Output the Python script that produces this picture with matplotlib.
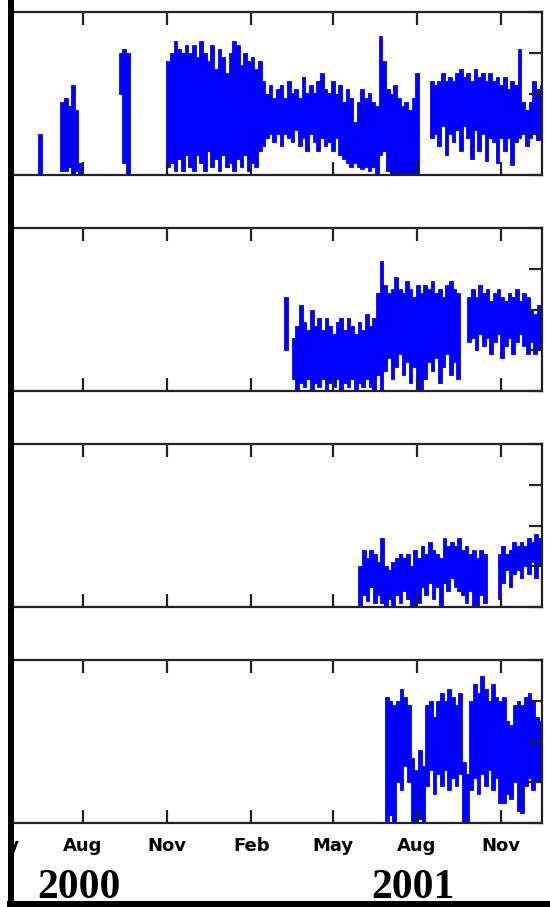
import numpy as np
import pandas as pd
import matplotlib
matplotlib.use("Agg")
import matplotlib.pyplot as plt
import matplotlib.dates as mdates
from matplotlib.patches import Rectangle

nan = np.nan
STEP = 4  # days per bin; each bin spans its low..high range

# panel 1
p1_start = "2000-06-13"
p1_hi = [1.0, nan, nan, nan, nan, nan, 1.8, 1.9, 1.7, 2.2, 1.6, 0.3,
         nan, nan, nan, nan, nan, nan, nan, nan, nan, nan, 3.0, 3.1, 3.0,
         nan, nan, nan, nan, nan, nan, nan, nan, nan, nan,
         2.8, 3.0, 3.3, 3.1, 3.0, 3.2, 3.0, 3.2, 2.9, 3.3, 3.0, 2.8, 3.2, 2.6,
         3.1, 2.9, 2.5, 3.0, 3.3, 3.2, 2.7, 3.0, 2.8, 2.9, 2.6, 2.8,
         2.3, 2.0, 2.2, 1.9, 2.1, 2.2, 1.9, 2.3, 2.0, 2.1, 1.9, 2.4, 2.0,
         2.2, 2.0, 2.3, 2.5, 2.1, 2.0, 2.3, 2.0, 2.2, 1.8, 2.1, 1.9, 1.3,
         1.8, 2.1, 1.9, 2.0, 1.8, 1.7, 3.4, 2.8, 2.1, 2.0, 2.2, 1.9, 1.7,
         1.8, 1.6, 1.9, 2.5, 0.0, 0.0, 0.0, 2.3, 2.2, 2.3, 2.5, 2.3, 2.4,
         2.3, 2.5, 2.6, 2.4, 2.5, 2.3, 2.6, 2.4, 2.5, 2.3, 2.5, 2.3, 2.4,
         2.2, 2.4, 2.1, 2.3, 2.2, 3.1, 1.8, 1.6, 1.8, 2.3, 2.1, 2.2]
p1_lo = [0.0, nan, nan, nan, nan, nan, 0.1, 0.1, 0.2, 0.0, 0.1, 0.0,
         nan, nan, nan, nan, nan, nan, nan, nan, nan, nan, 2.0, 0.3, 0.0,
         nan, nan, nan, nan, nan, nan, nan, nan, nan, nan,
         0.2, 0.3, 0.1, 0.4, 0.1, 0.5, 0.2, 0.1, 0.5, 0.3, 0.1, 0.6, 0.2, 0.4,
         0.1, 0.5, 0.2, 0.3, 0.1, 0.4, 0.2, 0.5, 0.1, 0.3, 0.2, 0.6,
         0.7, 0.9, 1.0, 0.8, 1.0, 0.7, 1.0, 0.9, 0.8, 1.1, 0.7, 0.9, 0.6,
         1.0, 0.8, 0.6, 0.9, 0.7, 0.8, 0.6, 0.9, 0.5, 0.4, 0.3, 0.2, 0.3,
         0.2, 0.15, 0.2, 0.1, 0.2, 0.0, 0.5, 0.6, 0.1, 0.0, 0.0, 0.0, 0.0,
         0.0, 0.0, 0.0, 0.0, 0.0, 0.0, 0.0, 0.9, 1.0, 0.7, 1.2, 0.5, 1.0,
         0.8, 1.1, 0.6, 1.2, 0.9, 0.4, 1.1, 0.6, 1.0, 0.35, 0.9, 0.8, 0.3,
         0.9, 0.6, 0.9, 0.25, 0.8, 0.9, 1.0, 0.7, 0.9, 1.0, 0.85, 0.9]

# panel 2
p2_start = "2001-03-09"
p2_hi = [2.3, nan, 1.3, 1.6, 2.1, 1.7, 1.5, 2.0, 1.6, 1.8, 1.5, 1.8,
         1.6, 1.4, 1.7, 1.8, 1.5, 1.8, 1.6, 1.4, 1.7, 1.5, 1.9, 1.6, 1.8,
         2.4, 3.2, 2.6, 2.4, 2.5, 2.8, 2.5, 2.4, 2.7, 2.5, 2.3, 2.6, 2.4,
         2.6, 2.5, 2.7, 2.4, 2.5, 2.3, 2.6, 2.7, 2.5, 2.4, nan, nan, 2.3,
         2.5, 2.3, 2.6, 2.4, 2.5, 2.2, 2.4, 2.5, 2.3, 2.2, 2.4, 2.3, 2.5,
         2.2, 2.4, 2.3, 2.0, 1.9, 2.1, 2.0]
p2_lo = [1.0, nan, 0.3, 0.0, 0.2, 0.1, 0.3, 0.0, 0.2, 0.1, 0.3, 0.0,
         0.2, 0.1, 0.3, 0.0, 0.2, 0.1, 0.3, 0.0, 0.2, 0.1, 0.3, 0.1, 0.0,
         0.4, 0.0, 0.5, 0.8, 0.3, 0.6, 0.9, 0.4, 0.7, 0.2, 0.6, 0.0, 0.0,
         0.3, 0.7, 0.5, 0.8, 0.2, 0.6, 0.9, 0.4, 0.7, 0.3, nan, nan, 1.2,
         1.3, 1.0, 1.4, 1.1, 1.3, 0.9, 1.2, 1.4, 0.8, 1.1, 1.3, 0.9, 1.2,
         1.4, 1.1, 0.9, 1.2, 0.9, 1.0, 1.1]

# panel 3
p3_start = "2001-05-29"
p3_hi = [1.0, 1.4, 1.2, 1.4, 1.3, 1.1, 1.7, 1.0, 0.9, 1.1, 1.2, 1.3,
         1.2, 1.3, 1.0, 1.4, 1.2, 1.5, 1.3, 1.6, 1.4, 1.3, 1.2, 1.7, 1.5,
         1.6, 1.5, 1.7, 1.4, 1.5, 1.3, 1.4, 1.2, 1.4, 1.3, 0.0, 0.0, 0.0,
         1.3, 1.5, 1.3, 1.4, 1.6, 1.5, 1.6, 1.5, 1.7, 1.6, 1.8, 1.7, 1.7]
p3_lo = [0.05, 0.3, 0.15, 0.5, 0.1, 0.3, 0.1, 0.0, 0.2, 0.0, 0.3, 0.1,
         0.4, 0.2, 0.0, 0.0, 0.1, 0.5, 0.3, 0.6, 0.2, 0.5, 0.0, 0.6, 0.4,
         0.7, 0.5, 0.4, 0.3, 0.1, 0.4, 0.0, 0.0, 0.3, 0.1, 0.0, 0.0, 0.0,
         0.2, 0.6, 0.9, 0.5, 0.8, 0.9, 0.7, 1.0, 0.8, 1.1, 0.7, 1.0, 1.0]

# panel 4
p4_start = "2001-06-27"
p4_hi = [3.1, 3.0, 2.9, 3.0, 3.3, 3.1, 2.9, 1.6, 1.3, 1.8, 1.4, 2.9,
         3.0, 2.6, 3.0, 3.2, 3.0, 3.3, 3.1, 2.9, 3.2, 1.5, 1.2, 3.0, 3.4,
         3.2, 3.6, 3.3, 3.0, 3.4, 3.1, 3.0, 3.1, 2.5, 2.4, 2.9, 3.0, 2.9,
         3.1, 3.2, 3.0, 2.6, 2.5]
p4_lo = [0.0, 0.2, 0.0, 1.0, 0.8, 1.4, 1.0, 0.0, 0.0, 0.1, 0.0, 0.9,
         1.3, 0.7, 1.2, 0.9, 1.3, 0.8, 1.1, 0.9, 1.2, 0.0, 0.0, 0.8, 1.1,
         0.7, 1.2, 0.9, 1.3, 0.8, 1.1, 0.5, 0.5, 0.7, 0.6, 1.0, 0.3, 0.25,
         0.9, 1.1, 0.8, 1.0, 1.0]

panels = [(p1_start, p1_hi, p1_lo), (p2_start, p2_hi, p2_lo),
          (p3_start, p3_hi, p3_lo), (p4_start, p4_hi, p4_lo)]

tick_dates = pd.to_datetime(["2000-05-01", "2000-08-01", "2000-11-01",
                             "2001-02-01", "2001-05-01", "2001-08-01",
                             "2001-11-01"])
tick_labels = ["May", "Aug", "Nov", "Feb", "May", "Aug", "Nov"]
years = ["2000", "2001"]
year_dates = pd.to_datetime(["2000-08-01", "2001-08-01"])
x0, x1 = pd.Timestamp("2000-04-25"), pd.Timestamp("2001-12-15")

W, H = 550, 907
fig = plt.figure(figsize=(W / 100, H / 100), dpi=100)
left_px, right_px = -6.6, 541.5
tops = [12, 228, 444, 660]
ph = 163
blue = "#0000ff"

axes = []
for k, (start, hi, lo) in enumerate(panels):
    ax = fig.add_axes([left_px / W, 1 - (tops[k] + ph) / H,
                       (right_px - left_px) / W, ph / H])
    hi = np.array(hi)
    lo = np.array(lo)
    t = pd.date_range(start, periods=len(hi), freq=f"{STEP}D")
    ax.bar(t, hi - lo, bottom=lo, width=STEP, align="edge",
           color=blue, edgecolor=blue, linewidth=0.6)
    ax.set_xlim(x0, x1)
    ax.set_ylim(0, 4)
    ax.set_yticks([0, 1, 2, 3, 4])
    ax.set_xticks(tick_dates)
    ax.tick_params(axis="both", which="both", direction="in", length=9.5,
                   width=1.6, top=True, right=True, colors="#222222",
                   labelleft=False)
    ax.tick_params(axis="x", labelbottom=(k == 3), pad=10, labelcolor="black")
    if k == 3:
        ax.set_xticklabels(tick_labels, fontsize=13, fontweight="bold")
    for s in ax.spines.values():
        s.set_linewidth(1.6)
        s.set_color("#222222")
    axes.append(ax)

# year labels under the August ticks
for yr, d in zip(years, year_dates):
    xd = axes[3].transData.transform((mdates.date2num(d), 0))[0]
    fig.text(xd / W - 0.007, 1 - 898 / H, yr, ha="center", va="baseline",
             family="Liberation Serif", fontweight="bold", fontsize=30)

# cropped frame: white margin, black left and bottom bars
fig.add_artist(Rectangle((0, 0), 7.5 / W, 1, transform=fig.transFigure,
                         facecolor="white", edgecolor="none", zorder=5))
fig.add_artist(Rectangle((8 / W, 6 / H), 6 / W, 1, transform=fig.transFigure,
                         facecolor="black", edgecolor="none", zorder=6))
fig.add_artist(Rectangle((7 / W, 0), 1, 6 / H, transform=fig.transFigure,
                         facecolor="black", edgecolor="none", zorder=6))

fig.savefig("out.png", dpi=100)
